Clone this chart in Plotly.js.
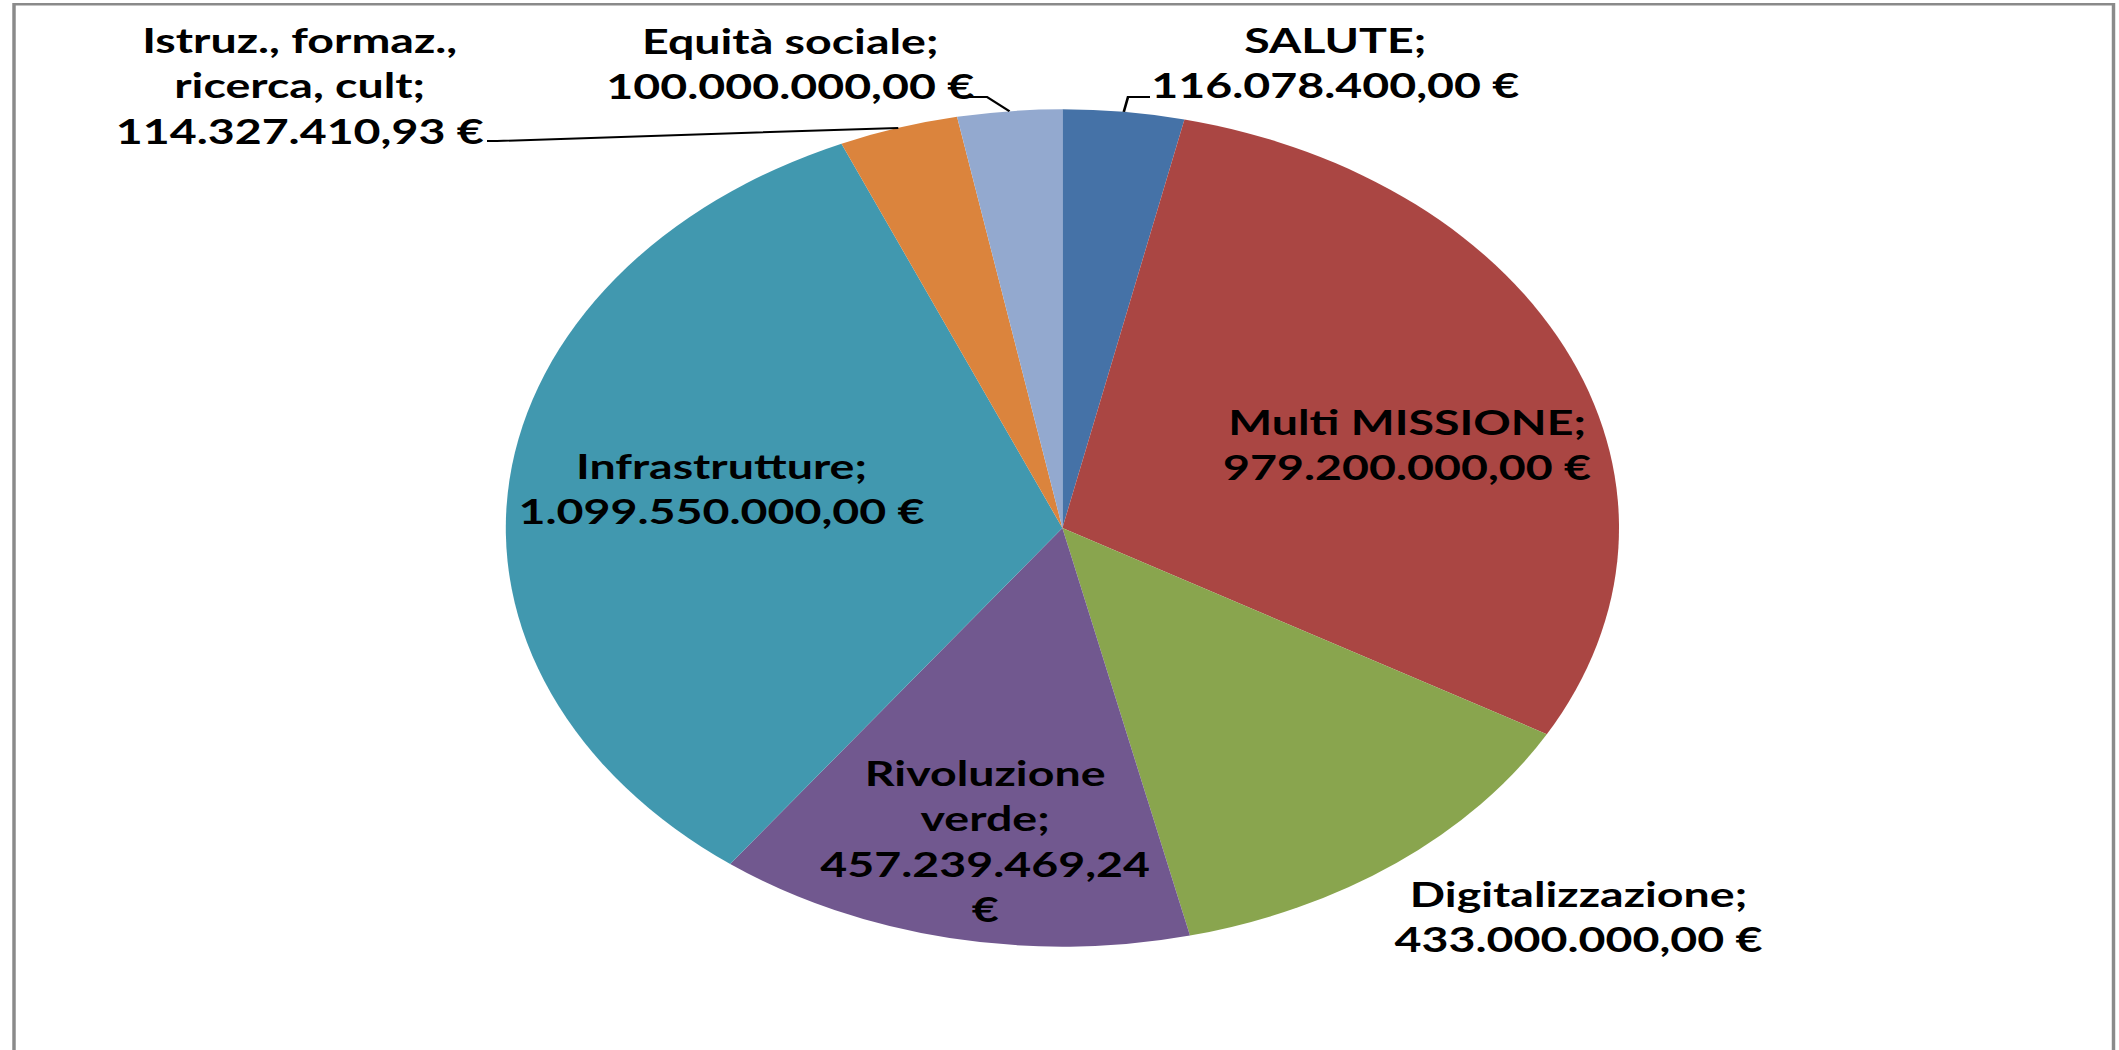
<!DOCTYPE html>
<html>
<head>
<meta charset="utf-8">
<script src="https://cdn.plot.ly/plotly-3.0.1.min.js"></script>
<style>
  html, body { margin: 0; padding: 0; background: #ffffff; overflow: hidden; }
  #wrap { width: 2119px; height: 1050px; overflow: hidden; }
  #chart { width: 1594px; height: 1050px; transform-origin: 0 0; }
</style>
</head>
<body>
<div id="wrap"><div id="chart"></div></div>
<script>
// ---- data ----
const categories = [
  "SALUTE",
  "Multi MISSIONE",
  "Digitalizzazione",
  "Rivoluzione verde",
  "Infrastrutture",
  "Istruz., formaz., ricerca, cult",
  "Equità sociale"
];
const values = [
  116078400.00,
  979200000.00,
  433000000.00,
  457239469.24,
  1099550000.00,
  114327410.93,
  100000000.00
];
const sliceColors = ["#4572A7", "#AA4643", "#89A54E", "#71588F", "#4198AF", "#DB843D", "#93A9CF"];

// ---- layout / style config ----
const FINAL_W = 2119, H = 1050, PLOT_W = 1594;
const SX = FINAL_W / PLOT_W;                     // horizontal stretch of the whole picture
document.getElementById('chart').style.transform = 'scaleX(' + SX + ')';

// pie placement (final pixels): centre and vertical radius
const pieCx = 1062.4, pieCy = 528, pieR = 418.7;
const cxU = pieCx / SX;
const domX = [(cxU - pieR) / PLOT_W, (cxU + pieR) / PLOT_W];
const domY = [((H - pieCy) - pieR) / H, ((H - pieCy) + pieR) / H];

// how each label is broken into lines (word groups), and where its block centre sits (final px)
const labelBreaks = [
  null, null, null,
  ["Rivoluzione", "verde"],
  null,
  ["Istruz., formaz.,", "ricerca, cult"],
  null
];
const valueBreak = [false, false, false, true, false, false, false];
const labelCentres = [
  [1335, 61.5], [1407, 444], [1578, 915.5], [985, 840], [722, 488], [300, 84.5], [790, 63.5]
];
// leader-line elbows near the label (final px), for the slices labelled outside
const leaders = {
  0: [[1128, 97], [1150, 97]],
  5: [[497, 141], [487, 141]],
  6: [[987, 97], [960, 97]]
};

function fmtEuro(v) {
  const parts = v.toFixed(2).split('.');
  const intPart = parts[0].replace(/\B(?=(\d{3})+(?!\d))/g, '.');
  return intPart + ',' + parts[1];
}

const total = values.reduce((a, b) => a + b, 0);
const midAngles = [];
let acc = 0;
values.forEach(v => { const a = v / total * 360; midAngles.push(acc + a / 2); acc += a; });

const fontFam = "Lato, 'Open Sans', 'DejaVu Sans', sans-serif";
const annotations = categories.map((c, i) => {
  const nameLines = labelBreaks[i] ? labelBreaks[i].slice() : [c];
  nameLines[nameLines.length - 1] += ';';
  const valLines = valueBreak[i] ? [fmtEuro(values[i]), '€'] : [fmtEuro(values[i]) + ' €'];
  const text = nameLines.concat(valLines).join('<br>');
  return {
    text: text,
    xref: 'paper', yref: 'paper',
    x: (labelCentres[i][0] / SX) / PLOT_W,
    y: 1 - labelCentres[i][1] / H,
    xanchor: 'center', yanchor: 'middle', align: 'center',
    showarrow: false,
    font: { family: fontFam, size: 35, color: '#000000', weight: 700 }
  };
});

function leaderShapes(cx, cy, r) {
  const shapes = [];
  Object.keys(leaders).forEach(k => {
    const i = +k;
    const th = midAngles[i] * Math.PI / 180;
    const px = cx + r * Math.sin(th), py = cy - r * Math.cos(th);
    const pts = [[px, py]].concat(leaders[i].map(p => [p[0] / SX, p[1]]));
    const d = pts.map((p, j) => (j ? 'L' : 'M') + (p[0] / PLOT_W).toFixed(5) + ',' + (1 - p[1] / H).toFixed(5)).join(' ');
    shapes.push({ type: 'path', xref: 'paper', yref: 'paper', path: d,
      line: { color: '#000000', width: 2 } });
  });
  return shapes;
}

const frame = {
  type: 'rect', xref: 'paper', yref: 'paper',
  x0: (14 / SX) / PLOT_W, x1: (2113.5 / SX) / PLOT_W,
  y0: -0.05, y1: 1 - 4.3 / H,
  line: { color: '#8a8a8a', width: 2.6 }, fillcolor: 'rgba(0,0,0,0)'
};

const trace = {
  type: 'pie',
  labels: categories,
  values: values,
  sort: false,
  direction: 'clockwise',
  rotation: 0,
  textinfo: 'none',
  hoverinfo: 'none',
  marker: { colors: sliceColors, line: { width: 0 } },
  domain: { x: domX, y: domY },
  showlegend: false
};

const layout = {
  width: PLOT_W, height: H,
  margin: { l: 0, r: 0, t: 0, b: 0 },
  paper_bgcolor: '#ffffff', plot_bgcolor: '#ffffff',
  showlegend: false,
  annotations: annotations,
  shapes: [frame].concat(leaderShapes(cxU, pieCy, pieR))
};

Plotly.newPlot('chart', [trace], layout, { staticPlot: true, displayModeBar: false }).then(gd => {
  const cd0 = gd.calcdata && gd.calcdata[0] && gd.calcdata[0][0];
  if (cd0 && isFinite(cd0.cx) && isFinite(cd0.cy) && isFinite(cd0.r)) {
    Plotly.relayout(gd, { shapes: [frame].concat(leaderShapes(cd0.cx, cd0.cy, cd0.r)) });
  }
});
</script>
</body>
</html>
